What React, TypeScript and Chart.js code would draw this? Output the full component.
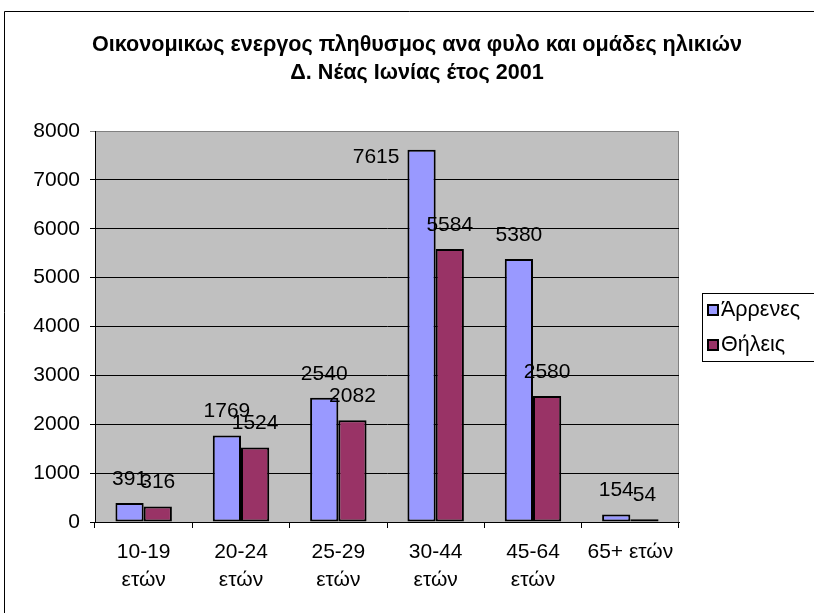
import React, { useEffect, useRef } from "react";
import { Chart, registerables } from "chart.js";

Chart.register(...registerables);

const categories: (string | string[])[] = [
  ["10-19", "ετών"],
  ["20-24", "ετών"],
  ["25-29", "ετών"],
  ["30-44", "ετών"],
  ["45-64", "ετών"],
  "65+ ετών",
];
const maleValues = [391, 1769, 2540, 7615, 5380, 154];
const femaleValues = [316, 1524, 2082, 5584, 2580, 54];
const seriesLabels = ["Άρρενες", "Θήλεις"];
const seriesColors = ["#9999FF", "#993366"];
const titleLines = [
  "Οικονομικως ενεργος πληθυσμος ανα φυλο και ομάδες ηλικιών",
  "Δ. Νέας Ιωνίας έτος 2001",
];
const yMin = 0;
const yMax = 8000;
const yStep = 1000;

const FONT = "'Liberation Sans', Arial, sans-serif";

const decorPlugin = {
  id: "decor",
  beforeDraw(chart: any) {
    const { ctx, chartArea: a } = chart;
    ctx.save();
    ctx.fillStyle = "#ffffff";
    ctx.fillRect(0, 0, chart.width, chart.height);
    // outer chart border (left/top visible)
    ctx.strokeStyle = "#000";
    ctx.lineWidth = 1;
    ctx.beginPath();
    ctx.moveTo(4.5, chart.height + 5);
    ctx.lineTo(4.5, 11.5);
    ctx.lineTo(chart.width + 5, 11.5);
    ctx.stroke();
    // plot area
    ctx.fillStyle = "#C0C0C0";
    ctx.fillRect(a.left, a.top, a.right - a.left, a.bottom - a.top);
    ctx.strokeStyle = "#808080";
    ctx.strokeRect(a.left + 0.5, a.top + 0.5, a.right - a.left - 1, a.bottom - a.top);
    // title
    ctx.fillStyle = "#000";
    ctx.font = `bold 21.6px ${FONT}`;
    ctx.textAlign = "center";
    ctx.textBaseline = "middle";
    ctx.fillText(titleLines[0], 417, 45);
    ctx.fillText(titleLines[1], 417, 73);
    ctx.restore();
  },
  afterDatasetsDraw(chart: any) {
    const { ctx, chartArea: a } = chart;
    ctx.save();
    ctx.font = `21px ${FONT}`;
    ctx.fillStyle = "#000";
    ctx.textBaseline = "middle";
    chart.data.datasets.forEach((ds: any, di: number) => {
      const meta = chart.getDatasetMeta(di);
      meta.data.forEach((bar: any, i: number) => {
        const txt = String(ds.data[i]);
        const y = bar.y - 24;
        if (y - 10 < a.top) {
          ctx.textAlign = "right";
          ctx.fillText(txt, bar.x - bar.width / 2 - 8, bar.y + 7);
        } else {
          ctx.textAlign = "center";
          ctx.fillText(txt, bar.x, y);
        }
      });
    });
    // legend
    const lx = 702, ly = 293, lw = 115, lh = 68;
    ctx.strokeStyle = "#000";
    ctx.lineWidth = 1;
    ctx.strokeRect(lx + 0.5, ly + 0.5, lw, lh);
    ctx.textAlign = "left";
    ctx.font = `21.5px ${FONT}`;
    chart.data.datasets.forEach((ds: any, di: number) => {
      const cy = 310 + di * 35;
      ctx.fillStyle = ds.backgroundColor;
      ctx.fillRect(707, cy - 6, 12, 12);
      ctx.lineWidth = 2;
      ctx.strokeRect(708, cy - 5, 10, 10);
      ctx.fillStyle = "#000";
      ctx.fillText(ds.label, 721, cy);
    });
    ctx.restore();
  },
};

export default function App() {
  const ref = useRef<HTMLCanvasElement>(null);
  useEffect(() => {
    if (!ref.current) return;
    Chart.defaults.font.family = FONT;
    const chart = new Chart(ref.current, {
      type: "bar",
      data: {
        labels: categories,
        datasets: [
          {
            label: seriesLabels[0],
            data: maleValues,
            backgroundColor: seriesColors[0],
            borderColor: "#000",
            borderWidth: 2,
            borderSkipped: false,
          },
          {
            label: seriesLabels[1],
            data: femaleValues,
            backgroundColor: seriesColors[1],
            borderColor: "#000",
            borderWidth: 2,
            borderSkipped: false,
          },
        ],
      },
      options: {
        responsive: false,
        animation: false,
        devicePixelRatio: 1,
        layout: { padding: { left: 4, right: 135, top: 131, bottom: 1 } },
        plugins: {
          legend: { display: false },
          title: { display: false },
          tooltip: { enabled: false },
        },
        datasets: {
          bar: { categoryPercentage: 0.58, barPercentage: 1 },
        },
        scales: {
          x: {
            afterFit: (s: any) => {
              s.height = 90;
            },
            grid: {
              display: true,
              drawOnChartArea: false,
              drawTicks: true,
              tickLength: 6,
              color: "#000",
              offset: true,
            },
            border: { color: "#000", width: 1 },
            ticks: {
              color: "#000",
              font: { size: 21, family: FONT, lineHeight: 1.333 },
              maxRotation: 0,
              minRotation: 0,
              autoSkip: false,
              padding: 10,
            },
          },
          y: {
            min: yMin,
            max: yMax,
            afterFit: (s: any) => {
              s.width = 91;
            },
            grid: {
              color: (c: any) => (c.tick && c.tick.value === yMax ? "#808080" : "#000"),
              tickLength: 5,
            },
            border: { color: "#000", width: 1 },
            ticks: {
              stepSize: yStep,
              color: "#000",
              font: { size: 21, family: FONT },
              padding: 10,
              callback: (v: any) => String(v),
            },
          },
        },
      },
      plugins: [decorPlugin],
    });
    return () => chart.destroy();
  }, []);
  return (
    <div style={{ position: "fixed", left: 0, top: 0, width: 814, height: 613, background: "#fff" }}>
      <canvas ref={ref} width={814} height={613} style={{ display: "block" }} />
    </div>
  );
}
